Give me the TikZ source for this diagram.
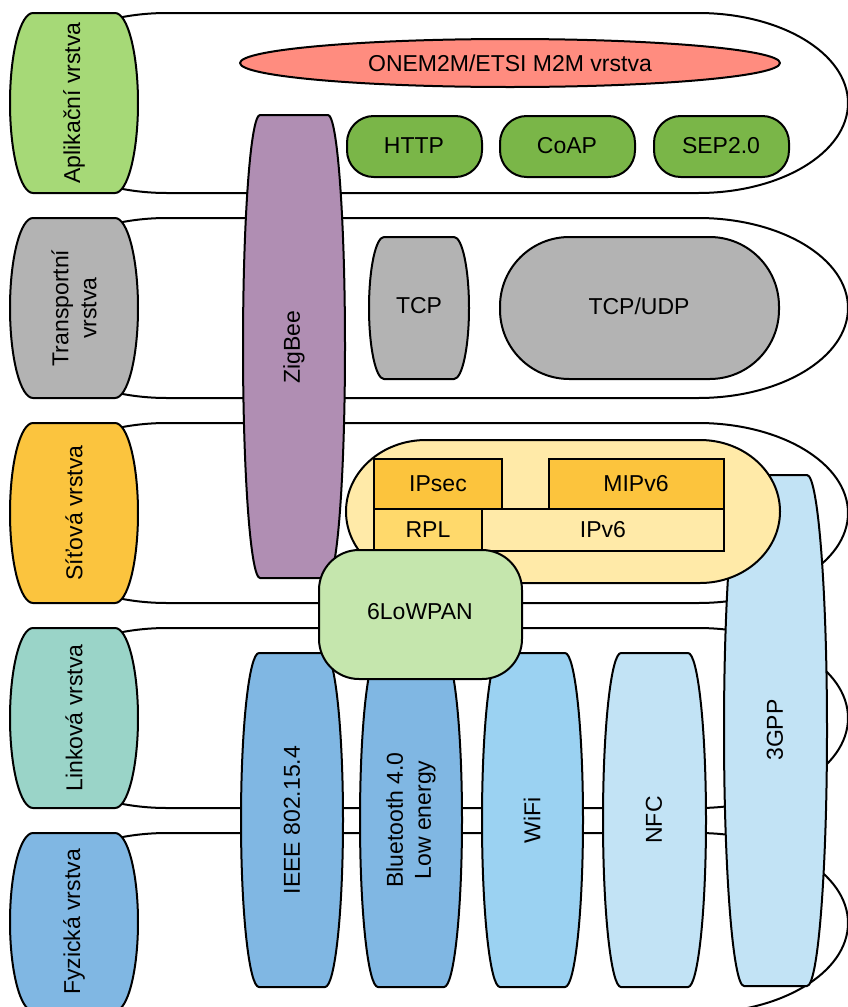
\documentclass[tikz,border=0pt]{standalone}
\usepackage{fontspec}
\setmainfont{Liberation Sans}
\definecolor{iotApp}{HTML}{A6D977}
\definecolor{iotTrans}{HTML}{B3B3B3}
\definecolor{iotNet}{HTML}{FBC43E}
\definecolor{iotLink}{HTML}{9AD4C8}
\definecolor{iotPhys}{HTML}{80B7E3}
\definecolor{iotOnem}{HTML}{FF8C7F}
\definecolor{iotProto}{HTML}{7AB648}
\definecolor{iotZig}{HTML}{B08EB3}
\definecolor{iotCont}{HTML}{FFEAA8}
\definecolor{iotSec}{HTML}{FCC43D}
\definecolor{iotRpl}{HTML}{FFD96B}
\definecolor{iotLow}{HTML}{C5E6AD}
\definecolor{iotBlueA}{HTML}{80B7E3}
\definecolor{iotBlueB}{HTML}{9BD2F2}
\definecolor{iotBlueC}{HTML}{C2E3F5}
\tikzset{
  iot outline/.style={draw=black, line width=1.5pt, line join=round},
  iot text/.style={font=\fontsize{17.25}{21}\selectfont, text=black, align=center, inner sep=0pt},
  iot vertical/.style={iot text, rotate=90},
  iot pill/.style={iot outline, rounded corners=20pt},
  iot box/.style={iot outline, line join=miter}
}
% flat top and bottom, elliptic ends: [style]{x1}{y1}{x2}{y2}{bulge}
\newcommand{\capsule}[6][]{%
  \draw[iot outline,#1] ({#2+#6},#3) -- ({#4-#6},#3)
    arc[start angle=-90,end angle=90,x radius=#6,y radius={(#5-#3)/2}]
    -- ({#2+#6},#5)
    arc[start angle=90,end angle=270,x radius=#6,y radius={(#5-#3)/2}] -- cycle;}

\begin{document}
\begin{tikzpicture}[x=0.75pt,y=-0.75pt]
  \useasboundingbox (0,0) rectangle (848,1007);

  % layer bands
  \capsule[fill=white]{17}{13}{848}{193}{150}
  \capsule[fill=white]{17}{218}{848}{398}{150}
  \capsule[fill=white]{17}{423}{848}{603}{150}
  \capsule[fill=white]{17}{628}{848}{808}{150}
  \capsule[fill=white]{17}{833}{848}{1013}{150}

  % layer labels
  \capsule[fill=iotApp]{10}{13}{138}{193}{23}
  \capsule[fill=iotTrans]{10}{218}{138}{398}{23}
  \capsule[fill=iotNet]{10}{423}{138}{603}{23}
  \capsule[fill=iotLink]{10}{628}{138}{808}{23}
  \capsule[fill=iotPhys]{10}{833}{138}{1011}{23}
  \node[iot vertical] (app) at (74,103) {Aplikační vrstva};
  \node[iot vertical] (trans) at (74,308) {Transportní\\vrstva};
  \node[iot vertical] (net) at (74,513) {Síťová vrstva};
  \node[iot vertical] (link) at (74,718) {Linková vrstva};
  \node[iot vertical] (phys) at (74,922) {Fyzická vrstva};

  % physical / link technologies
  \capsule[fill=iotBlueA]{241}{653}{343}{987}{18}
  \capsule[fill=iotBlueA]{360}{653}{462}{987}{18}
  \capsule[fill=iotBlueB]{482}{653}{583}{987}{18}
  \capsule[fill=iotBlueC]{603}{653}{706}{987}{18}
  \capsule[fill=iotBlueC]{724}{475}{827}{986}{20}
  \node[iot vertical] (ieee) at (292,820) {IEEE 802.15.4};
  \node[iot vertical] (ble) at (411,820) {Bluetooth 4.0\\Low energy};
  \node[iot vertical] (wifi) at (532,820) {WiFi};
  \node[iot vertical] (nfc) at (654,820) {NFC};
  \node[iot vertical] (gpp) at (775,730) {3GPP};

  % network layer
  \capsule[fill=iotCont]{346}{440}{780}{583}{80}
  \draw[iot box, fill=iotSec] (374,459) rectangle (502,509);
  \draw[iot box, fill=iotSec] (549,459) rectangle (724,509);
  \draw[iot box, fill=iotRpl] (374,509) rectangle (482,551);
  \draw[iot box, fill=iotCont] (482,509) rectangle (724,551);
  \node[iot text] (ipsec) at (438,484) {IPsec};
  \node[iot text] (mip) at (636,484) {MIPv6};
  \node[iot text] (rpl) at (428,530) {RPL};
  \node[iot text] (ipv) at (603,530) {IPv6};

  % zigbee
  \capsule[fill=iotZig]{243}{115}{345}{578}{17}
  \node[iot vertical] (zig) at (294,347) {ZigBee};

  \draw[iot outline, fill=iotLow, rounded corners=30pt] (319,550) rectangle (522,679);
  \node[iot text] (lowpan) at (420,612) {6LoWPAN};

  % transport layer
  \capsule[fill=iotTrans]{369}{237}{469}{379}{15}
  \draw[iot outline, fill=iotTrans, rounded corners=52pt] (500,237) rectangle (779,379);
  \node[iot text] (tcp) at (419,306) {TCP};
  \node[iot text] (udp) at (639,306) {TCP/UDP};

  % application layer
  \draw[iot outline, fill=iotOnem] (510,63) ellipse[x radius=270,y radius=24];
  \node[iot text] (onem) at (510,63) {ONEM2M/ETSI M2M vrstva};
  \draw[iot pill, fill=iotProto] (347,116) rectangle (482,177);
  \draw[iot pill, fill=iotProto] (500,116) rectangle (635,177);
  \draw[iot pill, fill=iotProto] (654,116) rectangle (789,177);
  \node[iot text] (http) at (414,146) {HTTP};
  \node[iot text] (coap) at (567,146) {CoAP};
  \node[iot text] (sep) at (721,146) {SEP2.0};
\end{tikzpicture}
\end{document}
